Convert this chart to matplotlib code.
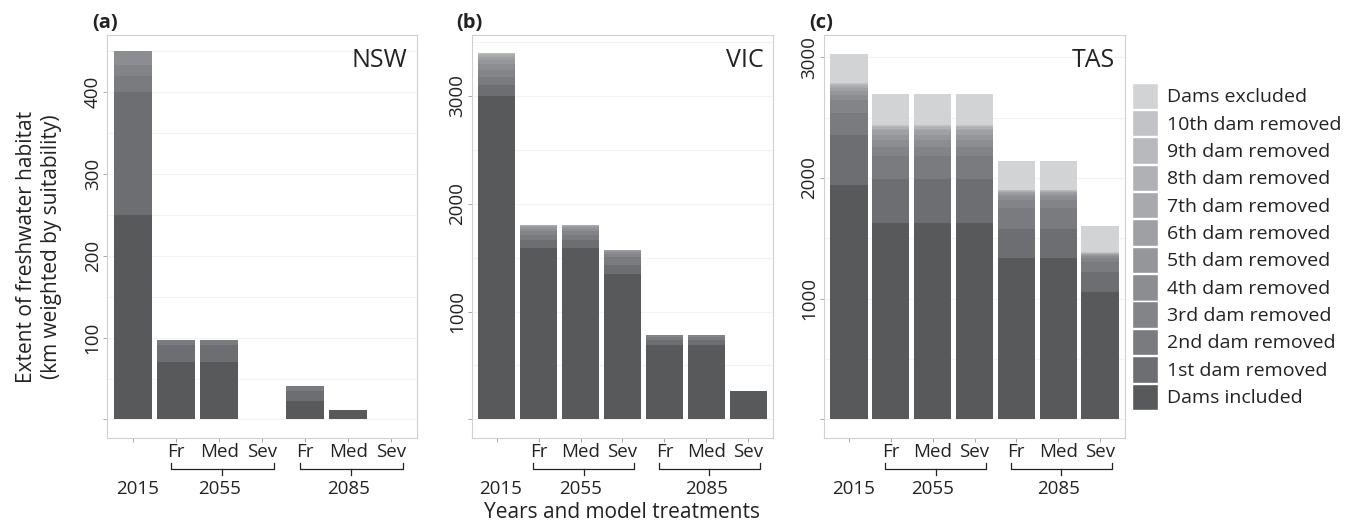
import matplotlib.pyplot as plt
from matplotlib.patches import Patch
import numpy as np

plt.rcParams['font.family'] = ['Open Sans', 'DejaVu Sans']

categories = ["2015", "Fr 2055", "Med 2055", "Sev 2055", "Fr 2085", "Med 2085", "Sev 2085"]
treatment_labels = ["", "Fr", "Med", "Sev", "Fr", "Med", "Sev"]
year_labels = ["2015", "2055", "2085"]

layers = ["Dams included", "1st dam removed", "2nd dam removed", "3rd dam removed",
          "4th dam removed", "5th dam removed", "6th dam removed", "7th dam removed",
          "8th dam removed", "9th dam removed", "10th dam removed", "Dams excluded"]
layer_colors = ["#58595B", "#6D6E71", "#7A7B7E", "#838487", "#8C8D90", "#95969A",
                "#9EA0A3", "#A7A9AC", "#B0B1B4", "#B8B9BC", "#C2C3C6", "#D2D3D5"]

# cumulative height reached after each layer (included -> excluded), one row per category
nsw_tops = [
    [250, 400, 420, 433, 450, 450, 450, 450, 450, 450, 450, 450],
    [70, 91, 97, 97, 97, 97, 97, 97, 97, 97, 97, 97],
    [70, 91, 97, 97, 97, 97, 97, 97, 97, 97, 97, 97],
    [0, 0, 0, 0, 0, 0, 0, 0, 0, 0, 0, 0],
    [22, 35, 41, 41, 41, 41, 41, 41, 41, 41, 41, 41],
    [11, 11, 11, 11, 11, 11, 11, 11, 11, 11, 11, 11],
    [0, 0, 0, 0, 0, 0, 0, 0, 0, 0, 0, 0],
]
vic_tops = [
    [3000, 3100, 3180, 3240, 3300, 3330, 3360, 3380, 3390, 3395, 3400, 3400],
    [1590, 1660, 1710, 1745, 1770, 1785, 1795, 1800, 1800, 1800, 1800, 1800],
    [1590, 1660, 1710, 1745, 1770, 1785, 1795, 1800, 1800, 1800, 1800, 1800],
    [1350, 1430, 1505, 1535, 1555, 1565, 1570, 1570, 1570, 1570, 1570, 1570],
    [690, 740, 765, 780, 785, 785, 785, 785, 785, 785, 785, 785],
    [690, 740, 765, 780, 785, 785, 785, 785, 785, 785, 785, 785],
    [265, 265, 265, 265, 265, 265, 265, 265, 265, 265, 265, 265],
]
tas_tops = [
    [1940, 2355, 2540, 2645, 2690, 2720, 2745, 2760, 2770, 2778, 2785, 3030],
    [1630, 1990, 2180, 2260, 2315, 2360, 2395, 2410, 2420, 2430, 2438, 2700],
    [1630, 1990, 2180, 2260, 2315, 2360, 2395, 2410, 2420, 2430, 2438, 2700],
    [1630, 1990, 2180, 2260, 2315, 2360, 2395, 2410, 2420, 2430, 2438, 2700],
    [1340, 1580, 1750, 1820, 1850, 1870, 1880, 1888, 1894, 1898, 1902, 2145],
    [1340, 1580, 1750, 1820, 1850, 1870, 1880, 1888, 1894, 1898, 1902, 2145],
    [1055, 1225, 1305, 1335, 1350, 1360, 1368, 1374, 1378, 1382, 1386, 1600],
]

panels = [
    ("(a)", "NSW", nsw_tops, [0, 100, 200, 300, 400], (-23, 470), 50),
    ("(b)", "VIC", vic_tops, [0, 1000, 2000, 3000], (-176, 3565), 500),
    ("(c)", "TAS", tas_tops, [0, 1000, 2000, 3000], (-157, 3185), 500),
]

W, H = 1352, 531
fig = plt.figure(figsize=(W / 100, H / 100), dpi=100)
ax_px = [(107.3, 417.0), (471.7, 773.3), (824.0, 1125.0)]
ax_top, ax_bot = 35.0, 438.3

text_col = "#222222"
fs = 13.5

for (tag, region, tops, yticks, ylim, gstep), (x0, x1) in zip(panels, ax_px):
    ax = fig.add_axes([x0 / W, 1 - ax_bot / H, (x1 - x0) / W, (ax_bot - ax_top) / H])
    x = np.arange(len(categories))
    tops = np.array(tops, dtype=float)
    bottoms = np.hstack([np.zeros((len(categories), 1)), tops[:, :-1]])
    for j in range(len(layers)):
        ax.bar(x, tops[:, j] - bottoms[:, j], bottom=bottoms[:, j], width=0.89,
               color=layer_colors[j], linewidth=0, zorder=2)

    ax.set_xlim(-0.6, 6.6)
    ax.set_ylim(*ylim)
    for g in np.arange(0, ylim[1], gstep):
        ax.axhline(g, color="#f3f3f3", lw=0.8, zorder=0)

    for s in ax.spines.values():
        s.set_color("#d0d0d0")
        s.set_linewidth(0.8)
    ax.set_xticks(x, labels=[""] * len(x))
    ax.set_yticks(yticks, labels=[""] + [str(v) for v in yticks[1:]])
    ax.tick_params(axis="both", colors="#999999", length=3, width=0.6, labelcolor=text_col,
                   labelsize=fs, pad=1)
    for lab in ax.get_yticklabels():
        lab.set_rotation(90)
        lab.set_va("center")

    trans = ax.get_xaxis_transform()
    h = ax_bot - ax_top
    for xi, lab in zip(x, treatment_labels):
        ax.text(xi, -13.4 / h, lab, transform=trans, ha="center", va="center",
                fontsize=fs, color=text_col, clip_on=False)
    # brackets grouping the treatments of each future year
    for start in (1, 4):
        xl, xr = start - 0.13, start + 2.28
        xm = (xl + xr) / 2
        ax.plot([xl, xl, xr, xr], [-25.0 / h, -30.7 / h, -30.7 / h, -25.0 / h],
                transform=trans, color=text_col, lw=0.9, clip_on=False)
        ax.plot([xm, xm], [-30.7 / h, -36.7 / h], transform=trans, color=text_col,
                lw=0.9, clip_on=False)
    for xi, lab in zip([0.1, 2, 5], year_labels):
        ax.text(xi, -51.0 / h, lab, transform=trans, ha="center", va="center",
                fontsize=fs, color=text_col, clip_on=False)

    ax.text(-0.05, 1.005, tag, transform=ax.transAxes, ha="left", va="bottom",
            fontsize=14.5, fontweight="bold", color=text_col)
    ax.text(0.968, 1 - 13 / h, region, transform=ax.transAxes, ha="right", va="top",
            fontsize=18, color=text_col)

fig.text(39 / W, 0.535, "Extent of freshwater habitat\n(km weighted by suitability)",
         rotation=90, ha="center", va="center", fontsize=15, color=text_col,
         linespacing=1.2)
fig.text((471.7 + 773.3) / 2 / W, 1 - 512 / H, "Years and model treatments",
         ha="center", va="center", fontsize=15, color=text_col)

handles = [Patch(facecolor=c, edgecolor="white", linewidth=1) for c in layer_colors]
fig.legend(handles[::-1], layers[::-1], loc="upper left",
           bbox_to_anchor=(1131.7 / W, 1 - 82.7 / H), frameon=False,
           fontsize=14, handlelength=1.34, handleheight=1.71, labelspacing=0.05,
           handletextpad=0.49, borderpad=0, borderaxespad=0, labelcolor=text_col)

plt.savefig("out.png", dpi=100)
